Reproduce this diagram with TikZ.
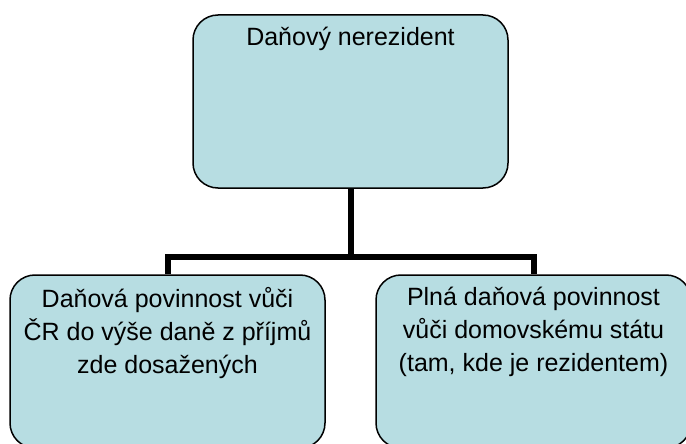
\documentclass[tikz,border=0pt]{standalone}
\usepackage{fontspec}
\setmainfont{Liberation Sans}
\usepackage{tikz}
\usetikzlibrary{positioning}
\definecolor{boxfill}{RGB}{183,221,226}

\begin{document}
\begin{tikzpicture}[
          x=1pt, y=-1pt,
          every node/.style={font=\fontsize{25}{33}\selectfont},
          pbox/.style={draw,thick,line width=1.5pt,fill=boxfill,rounded corners=25pt,
                       minimum width=315pt,minimum height=173pt,inner sep=0pt},
          ptext/.style={align=center,inner sep=0pt,anchor=north},
          conn/.style={line width=6pt},
        ]
        \useasboundingbox (0,0) rectangle (686,444);
        \clip (0,0) rectangle (686,444);
        % boxes
        \node[pbox] (rez) at (350.5,101.5) {};
        \node[pbox] (cr) at (167.5,361.5) {};
        \node[pbox] (dom) at (533.5,361.5) {};
        % connectors
        \coordinate (fork) at (350.5,257);
        \draw[conn] (rez.south) -- (fork);
        \draw[conn] (cr.north) |- (fork) -| (dom.north);
        % texts
        \node[ptext, below=13pt of rez.north] (reztxt) {Daňový nerezident};
        \node[ptext, below=13pt of cr.north] (crtxt)
          {Daňová povinnost vůči\\ČR do výše daně z příjmů\\zde dosažených};
        \node[ptext, below=13pt of dom.north] (domtxt)
          {Plná daňová povinnost\\vůči domovskému státu\\(tam, kde je rezidentem)};
      \end{tikzpicture}
\end{document}
